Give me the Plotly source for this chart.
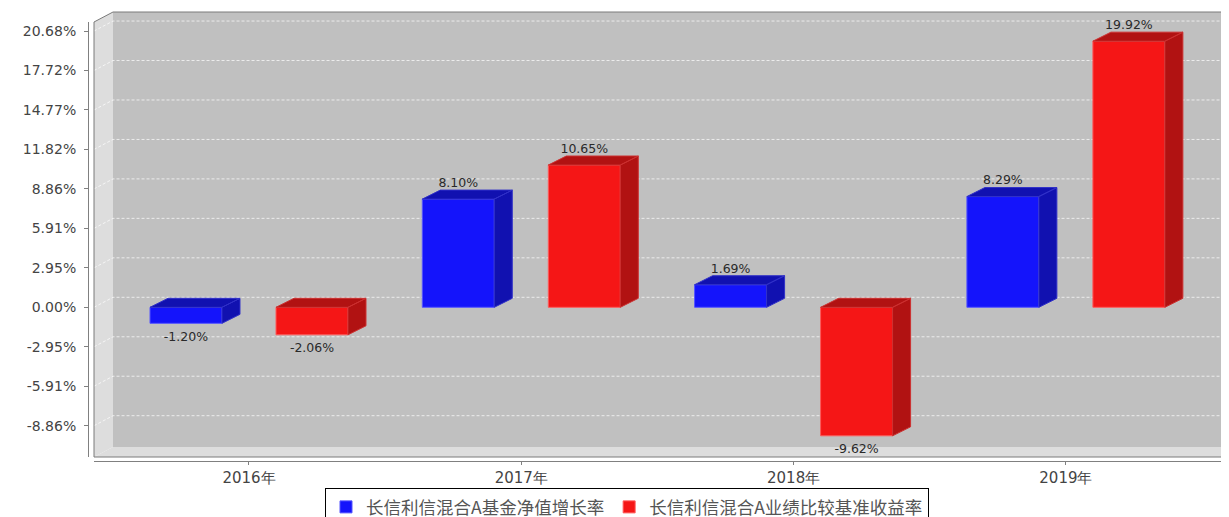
import plotly.graph_objects as go

# ---------------- data ----------------
years = ["2016年", "2017年", "2018年", "2019年"]
fund_name = "长信利信混合A基金净值增长率"
bench_name = "长信利信混合A业绩比较基准收益率"
fund = [-1.20, 8.10, 1.69, 8.29]
bench = [-2.06, 10.65, -9.62, 19.92]
tick_vals = [-8.862, -5.908, -2.954, 0.0, 2.954, 5.908, 8.862, 11.816, 14.77, 17.724, 20.678]
tick_text = ["-8.86%", "-5.91%", "-2.95%", "0.00%", "2.95%", "5.91%", "8.86%",
             "11.82%", "14.77%", "17.72%", "20.68%"]

# ---------------- layout constants (page pixels) ----------------
W, H = 1229, 517
OFF = 8                  # page body margin
FX0, FX1 = 94, 1222      # front box left/right
FY0, FY1 = 22, 457       # front box top/bottom
Y_RANGE = [-11.205, 21.355]
X_RANGE = [-0.5692, 3.5733]
WALL_DX, WALL_DY = 19, 10
BAR_DX, BAR_DY = 18, 9
NEG_LABEL_GAP = 8
BARGAP, BARGROUPGAP = 0.0745, 0.4287

FRONT = {"fund": "#1414fb", "bench": "#f51616"}
DARK = {"fund": "#1111b0", "bench": "#b11212"}
EDGE = {"fund": "#5555ff", "bench": "#ff5a5a"}
DEDGE = {"fund": "#3030c8", "bench": "#cc3030"}

ux = (X_RANGE[1] - X_RANGE[0]) / (FX1 - FX0)
uy = (Y_RANGE[1] - Y_RANGE[0]) / (FY1 - FY0)


def px(xp):
    return (xp - OFF) / W


def py(yp):
    return 1 - (yp - OFF) / H


def val_px(v):
    return FY1 - (v - Y_RANGE[0]) / uy


xpos = list(range(len(years)))
group_w = 1 - BARGAP
bar_w = group_w / 2 * (1 - BARGROUPGAP)

fig = go.Figure()

series = [("fund", fund_name, fund, -1), ("bench", bench_name, bench, 1)]
for key, name, vals, sgn in series:
    fig.add_trace(go.Bar(
        x=xpos, y=vals, name=name, marker_color=FRONT[key],
        marker_line=dict(color=EDGE[key], width=1), hoverinfo="skip",
    ))

for key, name, vals, sgn in series:
    dxu, dyu = BAR_DX * ux, BAR_DY * uy
    xs, ys = [], []
    lx, ly, lpos = [], [], []
    for i, v in zip(xpos, vals):
        c = i + sgn * group_w / 4
        a, b = c - bar_w / 2, c + bar_w / 2
        lo, hi = min(v, 0), max(v, 0)
        xs += [b, b + dxu, b + dxu, b, b, None]
        ys += [lo, lo + dyu, hi + dyu, hi, lo, None]
        xs += [a, a + dxu, b + dxu, b, a, None]
        ys += [hi, hi + dyu, hi + dyu, hi, hi, None]
        lx.append(c)
        if v >= 0:
            ly.append(v + dyu)
            lpos.append("top center")
        else:
            ly.append(v - NEG_LABEL_GAP * uy)
            lpos.append("bottom center")
    fig.add_trace(go.Scatter(
        x=xs, y=ys, mode="lines", fill="toself", fillcolor=DARK[key],
        line=dict(color=DEDGE[key], width=1), showlegend=False, hoverinfo="skip",
    ))
    fig.add_trace(go.Scatter(
        x=lx, y=ly, mode="text", text=[f"{v:.2f}%" for v in vals],
        textposition=lpos, textfont=dict(family="DejaVu Sans", size=12.5, color="#2a2a2a"),
        showlegend=False, hoverinfo="skip", cliponaxis=False,
    ))

shapes = []
# back wall
shapes.append(dict(type="rect", xref="paper", yref="paper", layer="below",
                   x0=px(FX0 + WALL_DX), x1=px(FX1 + WALL_DX),
                   y0=py(FY1 - WALL_DY), y1=py(FY0 - WALL_DY),
                   fillcolor="#c0c0c0", line=dict(width=0)))
# left wall
shapes.append(dict(type="path", xref="paper", yref="paper", layer="below",
                   path=f"M{px(FX0)},{py(FY0)} L{px(FX0 + WALL_DX)},{py(FY0 - WALL_DY)} "
                        f"L{px(FX0 + WALL_DX)},{py(FY1 - WALL_DY)} L{px(FX0)},{py(FY1)} Z",
                   fillcolor="#dddddd", line=dict(width=0)))
# floor
shapes.append(dict(type="path", xref="paper", yref="paper", layer="below",
                   path=f"M{px(FX0)},{py(FY1)} L{px(FX0 + WALL_DX)},{py(FY1 - WALL_DY)} "
                        f"L{px(FX1 + WALL_DX)},{py(FY1 - WALL_DY)} L{px(FX1)},{py(FY1)} Z",
                   fillcolor="#dddddd", line=dict(width=0)))
# gridlines on walls
for tv in tick_vals:
    yp = val_px(tv)
    shapes.append(dict(type="path", xref="paper", yref="paper", layer="below",
                       path=f"M{px(FX0)},{py(yp)} L{px(FX0 + WALL_DX)},{py(yp - WALL_DY)} "
                            f"L{px(FX1 + WALL_DX)},{py(yp - WALL_DY)}",
                       line=dict(color="rgba(255,255,255,0.7)", width=1, dash="3px,2px")))
# outlines
shapes.append(dict(type="path", xref="paper", yref="paper", layer="below",
                   path=f"M{px(FX0)},{py(FY1)} L{px(FX0)},{py(FY0)} "
                        f"L{px(FX0 + WALL_DX)},{py(FY0 - WALL_DY)} L{px(FX1 + WALL_DX)},{py(FY0 - WALL_DY)}",
                   line=dict(color="#7a7a7a", width=1)))
shapes.append(dict(type="path", xref="paper", yref="paper", layer="below",
                   path=f"M{px(FX0)},{py(FY1)} L{px(FX1)},{py(FY1)} "
                        f"L{px(FX1 + WALL_DX)},{py(FY1 - WALL_DY)}",
                   line=dict(color="#7a7a7a", width=1)))

fig.update_layout(
    width=W, height=H,
    margin=dict(l=0, r=0, t=0, b=0, autoexpand=False),
    paper_bgcolor="white", plot_bgcolor="rgba(0,0,0,0)",
    barmode="group", bargap=BARGAP, bargroupgap=BARGROUPGAP,
    shapes=shapes,
    showlegend=True,
    legend=dict(orientation="h", x=px(627), xanchor="center", y=py(488), yanchor="top",
                bgcolor="white", bordercolor="black", borderwidth=1,
                font=dict(family="Noto Sans CJK SC", size=17.5, color="#555555"),
                itemwidth=30, traceorder="normal"),
    xaxis=dict(domain=[px(FX0), px(FX1)], range=X_RANGE, anchor="free", position=py(461),
               tickvals=xpos, ticktext=years, showgrid=False, zeroline=False,
               showline=True, linecolor="#808080", linewidth=1,
               ticks="outside", ticklen=3, tickcolor="#808080",
               tickfont=dict(family="DejaVu Sans", size=15, color="#444444"),
               automargin=False, fixedrange=True),
    yaxis=dict(domain=[py(FY1), py(FY0)], range=Y_RANGE, anchor="free", position=px(88),
               tickvals=tick_vals, ticktext=tick_text, showgrid=False, zeroline=False,
               showline=True, linecolor="#808080", linewidth=1,
               ticks="outside", ticklen=4, tickcolor="#808080", ticklabelstandoff=5,
               tickfont=dict(family="DejaVu Sans", size=14, color="#444444"),
               automargin=False, fixedrange=True),
)

fig.write_html("out.html")
